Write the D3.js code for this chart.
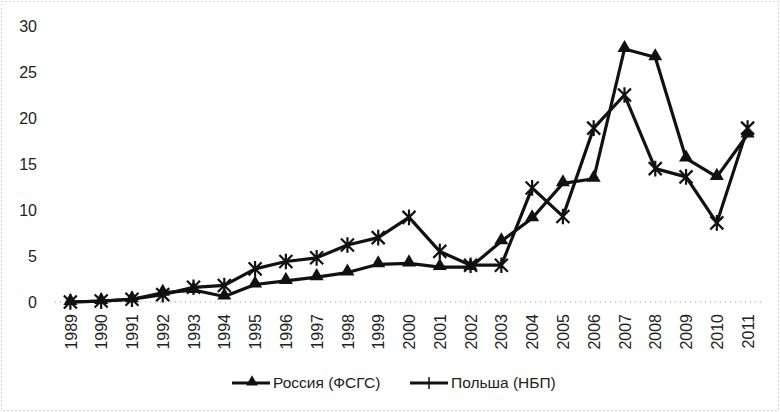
<!DOCTYPE html>
<html>
<head>
<meta charset="utf-8">
<script src="https://cdn.jsdelivr.net/npm/d3@7"></script>
<style>
  body { margin: 0; background: #fff; }
  svg { display: block; font-family: "Liberation Sans", Arial, sans-serif; }
</style>
</head>
<body>
<div id="chart"></div>
<script>
let years = d3.range(1989, 2012).map(String);
let russia = [0, 0.1, 0.3, 1.0, 1.3, 0.6, 1.9, 2.3, 2.7, 3.2, 4.1, 4.2, 3.8, 3.8, 6.6, 9.1, 12.9, 13.4, 27.5, 26.6, 15.6, 13.6, 18.2];
let poland = [0, 0.1, 0.3, 0.8, 1.6, 1.8, 3.6, 4.4, 4.8, 6.2, 7.0, 9.2, 5.5, 4.0, 4.0, 12.4, 9.3, 18.9, 22.5, 14.5, 13.6, 8.6, 18.9];
let yTicks = [0, 5, 10, 15, 20, 25, 30];
let seriesNames = ['Россия (ФСГС)', 'Польша (НБП)'];

let width = 780, height = 412;
let margin = {top: 26, right: 17, bottom: 110, left: 55};

let svg = d3.select('#chart').append('svg')
    .attr('width', width)
    .attr('height', height);

// faint dotted frame
svg.append('rect')
    .attr('x', 1.5).attr('y', 1.5)
    .attr('width', width - 3).attr('height', height - 3)
    .attr('fill', 'none')
    .attr('stroke', '#aaa')
    .attr('stroke-dasharray', '1,3');

let x = d3.scalePoint().domain(years)
    .range([margin.left, width - margin.right]).padding(0.5);
let y = d3.scaleLinear().domain([0, 30])
    .range([height - margin.bottom, margin.top]);

// y axis labels
svg.append('g')
    .attr('transform', 'translate(37,0)')
    .call(d3.axisLeft(y).tickValues(yTicks).tickSize(0).tickPadding(0))
    .call(g => g.select('.domain').remove())
    .selectAll('text')
    .attr('font-size', 16)
    .attr('fill', '#222');

// baseline (dotted, faint)
svg.append('line')
    .attr('x1', margin.left).attr('x2', width - margin.right)
    .attr('y1', y(0)).attr('y2', y(0))
    .attr('stroke', '#999')
    .attr('stroke-dasharray', '1,4');

// x labels, rotated
svg.append('g')
    .attr('transform', 'translate(0,' + (y(0) + 12) + ')')
    .call(d3.axisBottom(x).tickSize(0).tickPadding(0))
    .call(g => g.select('.domain').remove())
    .selectAll('text')
    .attr('font-size', 16)
    .attr('fill', '#222')
    .attr('transform', 'rotate(-90)')
    .attr('text-anchor', 'end')
    .attr('dx', 0)
    .attr('dy', '0.35em');

let line = d3.line()
    .x((d, i) => x(years[i]))
    .y(d => y(d));

function drawLine(data) {
    svg.append('path')
        .datum(data)
        .attr('d', line)
        .attr('fill', 'none')
        .attr('stroke', '#111')
        .attr('stroke-width', 3.2)
        .attr('stroke-linejoin', 'round');
}

let tri = d3.symbol().type(d3.symbolTriangle).size(85);
function star(g, s) {
    let r = s;
    g.append('path')
        .attr('d', 'M' + (-r) + ',' + (-r) + 'L' + r + ',' + r +
                   'M' + (-r) + ',' + r + 'L' + r + ',' + (-r) +
                   'M0,' + (-r * 1.2) + 'L0,' + (r * 1.2))
        .attr('stroke', '#111')
        .attr('stroke-width', 2.2)
        .attr('fill', 'none');
}

drawLine(poland);
drawLine(russia);

svg.append('g').selectAll('path')
    .data(russia)
    .join('path')
    .attr('d', tri)
    .attr('transform', (d, i) => 'translate(' + x(years[i]) + ',' + (y(d) - 1) + ')')
    .attr('fill', '#111');

svg.append('g').selectAll('g')
    .data(poland)
    .join('g')
    .attr('transform', (d, i) => 'translate(' + x(years[i]) + ',' + y(d) + ')')
    .each(function() { star(d3.select(this), 6.5); });

// legend
let legend = svg.append('g').attr('transform', 'translate(0,383)');
let lx = [232, 410];
seriesNames.forEach((name, i) => {
    let g = legend.append('g').attr('transform', 'translate(' + lx[i] + ',0)');
    g.append('line')
        .attr('x1', 0).attr('x2', 38)
        .attr('stroke', '#111').attr('stroke-width', 3);
    if (i == 0) {
        g.append('path').attr('d', d3.symbol().type(d3.symbolTriangle).size(60))
            .attr('transform', 'translate(20,-1)').attr('fill', '#111');
    } else {
        g.append('line').attr('x1', 19).attr('x2', 19).attr('y1', -6).attr('y2', 6)
            .attr('stroke', '#111').attr('stroke-width', 1.5);
    }
    g.append('text')
        .attr('x', 41).attr('dy', '0.35em')
        .attr('font-size', 15.5)
        .attr('fill', '#222')
        .text(name);
});
</script>
</body>
</html>
